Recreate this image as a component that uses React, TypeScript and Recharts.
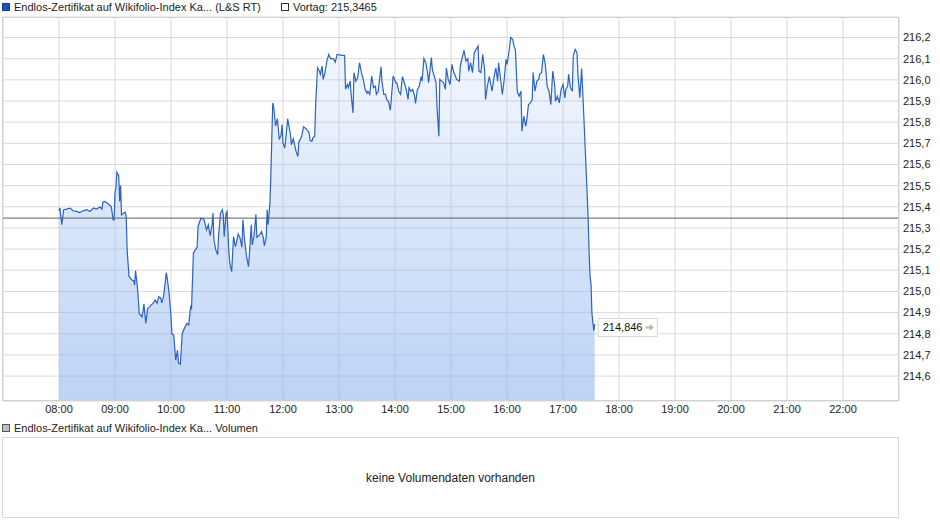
import React from "react";
import {
  ComposedChart,
  Area,
  XAxis,
  YAxis,
  CartesianGrid,
  ReferenceLine,
  ReferenceDot,
} from "recharts";

// Intraday quotes: minutes after the 08:00 open and the traded price
const sessionMinutes = [
  0, 1, 3, 5, 8, 12, 15, 19, 22, 26,
  30, 33, 37, 40, 44, 46, 47, 49, 53, 56,
  58, 59, 60, 61, 62, 64, 65, 66, 67, 69,
  71, 72, 73, 75, 78, 80, 81, 82, 84, 86,
  89, 91, 93, 95, 97, 101, 103, 105, 107, 109,
  110, 112, 115, 116, 118, 120, 121, 123, 125, 127,
  128, 130, 132, 135, 137, 139, 141, 142, 144, 146,
  148, 149, 152, 155, 156, 158, 160, 162, 164, 165,
  166, 168, 170, 171, 173, 175, 176, 177, 179, 180,
  182, 183, 185, 187, 189, 190, 192, 194, 196, 197,
  199, 201, 203, 204, 206, 207, 209, 211, 212, 215,
  217, 219, 220, 222, 223, 224, 226, 227, 229, 230,
  232, 234, 236, 238, 239, 240, 242, 245, 248, 249,
  251, 254, 256, 257, 260, 262, 265, 268, 269, 271,
  272, 274, 275, 277, 279, 280, 282, 283, 285, 287,
  289, 291, 294, 296, 298, 303, 306, 307, 309, 310,
  312, 313, 315, 316, 318, 320, 322, 324, 326, 328,
  330, 331, 333, 335, 337, 339, 340, 342, 345, 346,
  348, 350, 351, 353, 355, 356, 358, 361, 362, 364,
  366, 368, 370, 372, 374, 375, 377, 379, 381, 382,
  384, 386, 388, 389, 391, 393, 395, 396, 399, 400,
  402, 404, 405, 407, 408, 410, 412, 414, 415, 417,
  419, 421, 423, 424, 426, 429, 430, 432, 434, 436,
  438, 439, 441, 443, 445, 447, 449, 450, 452, 454,
  456, 457, 459, 461, 462, 464, 466, 468, 470, 471,
  473, 475, 477, 479, 480, 482, 484, 486, 488, 489,
  491, 493, 495, 496, 498, 500, 501, 503, 505, 507,
  508, 510, 512, 514, 515, 517, 519, 521, 522, 523,
  525, 527, 529, 531, 532, 534, 536, 538, 540, 542,
  543, 545, 546, 548, 550, 551, 553, 555, 556, 558,
  560, 562, 564, 566, 567, 568, 569, 570, 571, 573,
  574,
];

const prices = [
  215.381, 215.395, 215.315, 215.386, 215.389, 215.394, 215.381, 215.378, 215.373, 215.381,
  215.386, 215.378, 215.394, 215.389, 215.399, 215.389, 215.422, 215.425, 215.413, 215.401,
  215.338, 215.338, 215.465, 215.49, 215.563, 215.547, 215.425, 215.5, 215.362, 215.37,
  215.375, 215.354, 215.196, 215.07, 215.054, 215.051, 215.03, 215.098, 215.022, 214.896,
  214.88, 214.94, 214.849, 214.92, 214.927, 214.946, 214.959, 214.944, 214.975, 214.969,
  214.946, 214.975, 215.089, 215.062, 214.991, 214.88, 214.798, 214.793, 214.675, 214.722,
  214.662, 214.656, 214.801, 214.833, 214.849, 214.841, 214.927, 214.92, 215.181, 215.196,
  215.209, 215.307, 215.346, 215.342, 215.33, 215.291, 215.315, 215.263, 215.315, 215.37,
  215.244, 215.196, 215.173, 215.267, 215.37, 215.386, 215.362, 215.259, 215.37, 215.378,
  215.188, 215.133, 215.093, 215.259, 215.212, 215.228, 215.272, 215.252, 215.209, 215.338,
  215.236, 215.164, 215.117, 215.173, 215.315, 215.22, 215.263, 215.365, 215.256, 215.267,
  215.283, 215.252, 215.215, 215.256, 215.386, 215.315, 215.418, 215.552, 215.891, 215.874,
  215.781, 215.816, 215.718, 215.741, 215.789, 215.702, 215.678, 215.816, 215.741, 215.694,
  215.721, 215.662, 215.638, 215.705, 215.733, 215.778, 215.768, 215.749, 215.714, 215.709,
  215.726, 215.733, 215.883, 216.057, 216.041, 216.026, 216.065, 216.002, 216.034, 216.089,
  216.12, 216.1, 216.1, 216.084, 216.12, 216.116, 216.116, 215.955, 215.978, 215.963,
  215.994, 215.931, 215.844, 216.034, 215.994, 216.01, 216.081, 216.034, 216.002, 215.955,
  215.936, 215.946, 215.931, 216.018, 215.963, 215.97, 215.931, 215.946, 216.062, 215.994,
  215.931, 215.931, 215.907, 215.899, 215.856, 215.907, 216.018, 215.986, 215.986, 215.946,
  215.931, 216.015, 215.986, 215.955, 215.907, 215.963, 215.946, 215.955, 215.923, 215.888,
  215.955, 215.97, 216.015, 215.994, 216.1, 216.081, 216.031, 215.986, 216.105, 216.049,
  216.018, 215.986, 215.875, 215.733, 216.002, 215.994, 215.986, 215.955, 216.057, 216.002,
  215.978, 216.073, 216.034, 216.026, 216.002, 215.994, 216.065, 216.105, 216.139, 216.089,
  216.1, 216.041, 216.081, 216.034, 216.128, 216.144, 216.16, 216.041, 216.034, 216.12,
  216.049, 215.907, 215.97, 216.015, 215.994, 215.946, 216.01, 216.057, 215.994, 216.081,
  216.01, 215.931, 216.002, 216.097, 216.073, 216.128, 216.2, 216.192, 216.152, 216.144,
  215.946, 215.923, 215.946, 215.757, 215.828, 215.781, 215.804, 215.883, 215.891, 215.907,
  216.034, 215.946, 215.994, 216.002, 216.026, 216.034, 216.12, 216.073, 216.026, 215.97,
  215.946, 215.883, 216.041, 215.978, 215.899, 215.923, 215.891, 215.955, 215.978, 215.915,
  215.955, 215.97, 216.026, 215.963, 215.946, 216.112, 216.144, 216.128, 216.026, 215.915,
  216.053, 215.86, 215.654, 215.449, 215.338, 215.181, 215.07, 215.038, 214.896, 214.814,
  214.846,
];

const previousClose = 215.3465;
const lastPrice = 214.846;

const hourLabels = [
  "08:00", "09:00", "10:00", "11:00", "12:00", "13:00", "14:00", "15:00",
  "16:00", "17:00", "18:00", "19:00", "20:00", "21:00", "22:00",
];

const priceTicks = [
  214.6, 214.7, 214.8, 214.9, 215.0, 215.1, 215.2, 215.3, 215.4,
  215.5, 215.6, 215.7, 215.8, 215.9, 216.0, 216.1, 216.2,
];

const seriesName = "Endlos-Zertifikat auf Wikifolio-Index Ka...";

const FONT = '"Liberation Sans", Arial, sans-serif';

const data = sessionMinutes.map((m, i) => ({ t: m, price: prices[i] }));
const hourTicks = hourLabels.map((_, i) => i * 60);
const lastMinute = sessionMinutes[sessionMinutes.length - 1];

const fmtComma = (v: number, digits: number) => v.toFixed(digits).replace(".", ",");

// Tag with the latest quote, placed to the right of the last point
const LastValueTag = (props: any) => {
  const { cx, cy } = props;
  if (cx == null || cy == null) return null;
  const ax = cx + 51;
  const ay = cy + 3.5;
  return (
    <g>
      <rect
        x={cx + 3.5}
        y={cy - 5.5}
        width={59}
        height={18}
        fill="#ffffff"
        stroke="#d6d6d6"
      />
      <text x={cx + 8} y={cy + 7.5} fontSize={11} fill="#111" fontFamily={FONT}>
        {fmtComma(lastPrice, 3)}
      </text>
      <line x1={ax} y1={ay} x2={ax + 5} y2={ay} stroke="#b4b4b4" strokeWidth={2} />
      <path d={`M${ax + 4},${ay - 3.5} L${ax + 8},${ay} L${ax + 4},${ay + 3.5} Z`} fill="#b4b4b4" />
    </g>
  );
};

const legendSquare = (fill: string, border: string): React.CSSProperties => ({
  display: "inline-block",
  width: 6,
  height: 6,
  background: fill,
  border: `1px solid ${border}`,
  marginRight: 4,
  verticalAlign: "0px",
});

export default function App() {
  return (
    <div
      style={{
        position: "absolute",
        left: 0,
        top: 0,
        width: 940,
        height: 526,
        background: "#ffffff",
        fontFamily: FONT,
        fontSize: 11,
        color: "#222",
      }}
    >
      {/* price chart legend */}
      <div style={{ position: "absolute", left: 2, top: 0, lineHeight: "14px", whiteSpace: "nowrap" }}>
        <span style={legendSquare("#1f4fbf", "#183d8f")} />
        {seriesName} (L&amp;S RT)
      </div>
      <div style={{ position: "absolute", left: 281, top: 0, lineHeight: "14px", whiteSpace: "nowrap" }}>
        <span style={legendSquare("#ffffff", "#333333")} />
        Vortag: {fmtComma(previousClose, 4)}
      </div>

      <div style={{ position: "absolute", left: 0, top: 0 }}>
        <ComposedChart
          width={940}
          height={420}
          data={data}
          margin={{ top: 17, right: 0, bottom: 0, left: 3 }}
        >
          <defs>
            <linearGradient id="priceFill" x1="0" y1="0" x2="0" y2="1">
              <stop offset="0%" stopColor="#8fb6f0" stopOpacity={0.09} />
              <stop offset="100%" stopColor="#8fb6f0" stopOpacity={0.6} />
            </linearGradient>
          </defs>
          <CartesianGrid stroke="#dadada" strokeWidth={1} />
          <XAxis
            dataKey="t"
            type="number"
            domain={[-60, 900]}
            ticks={hourTicks}
            interval={0}
            tickFormatter={(v: number) => hourLabels[Math.round(v / 60)]}
            axisLine={false}
            tickLine={false}
            tickSize={0}
            tickMargin={4}
            height={19}
            tick={{ fontSize: 11, fill: "#222", fontFamily: FONT }}
            allowDataOverflow
          />
          <YAxis
            orientation="right"
            type="number"
            domain={[214.482, 216.297]}
            ticks={priceTicks}
            interval={0}
            tickFormatter={(v: number) => fmtComma(v, 1)}
            axisLine={false}
            tickLine={false}
            tickSize={0}
            tickMargin={4}
            width={41}
            tick={{ fontSize: 11, fill: "#222", fontFamily: FONT }}
            allowDataOverflow
          />
          <Area
            type="linear"
            dataKey="price"
            stroke="#2a62c6"
            strokeWidth={1.2}
            fill="url(#priceFill)"
            fillOpacity={1}
            dot={false}
            activeDot={false}
            isAnimationActive={false}
          />
          <ReferenceLine y={previousClose} stroke="#5e5e5e" strokeWidth={1} />
          <ReferenceDot
            x={lastMinute}
            y={lastPrice}
            r={0}
            shape={LastValueTag}
            ifOverflow="visible"
          />
        </ComposedChart>
      </div>

      {/* plot frame */}
      <div
        style={{
          position: "absolute",
          left: 2,
          top: 17,
          width: 897,
          height: 384,
          boxSizing: "border-box",
          border: "1px solid #d0d0d0",
          pointerEvents: "none",
        }}
      />

      {/* volume panel */}
      <div style={{ position: "absolute", left: 2, top: 421, lineHeight: "14px", whiteSpace: "nowrap" }}>
        <span style={legendSquare("#c0c0c0", "#555555")} />
        {seriesName} Volumen
      </div>
      <div
        style={{
          position: "absolute",
          left: 2,
          top: 437,
          width: 897,
          height: 81,
          boxSizing: "border-box",
          border: "1px solid #d8d8d8",
          display: "flex",
          alignItems: "center",
          justifyContent: "center",
          fontSize: 12,
          color: "#222",
        }}
      >
        keine Volumendaten vorhanden
      </div>
    </div>
  );
}
